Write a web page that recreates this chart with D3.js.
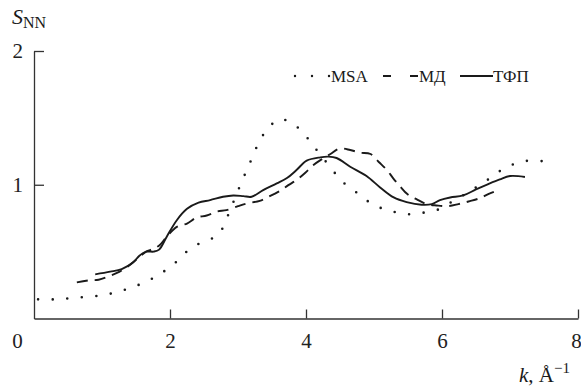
<!DOCTYPE html>
<html>
<head>
<meta charset="utf-8">
<script src="https://d3js.org/d3.v7.min.js"></script>
<style>
  body { margin: 0; background: #fff; }
  svg { display: block; }
  svg text { font-family: 'Liberation Serif', 'Times New Roman', serif !important; }
  .axis path, .axis line { stroke: #333; stroke-width: 1.3; }
  .axis text { font-size: 21px; fill: #222; }
</style>
</head>
<body>
<div id="chart"></div>
<script>
// MSA (dotted)
const msaK = [0.06,0.28,0.5,0.72,0.95,1.16,1.37,1.58,1.78,1.96,2.13,2.29,2.49,2.68,2.8,2.88,2.97,3.05,3.14,3.23,3.32,3.44,3.61,3.81,3.97,4.11,4.38,4.52,4.7,4.87,5.06,5.27,5.49,5.71,5.92,6.12,6.31,6.5,6.68,6.86,7.06,7.27,7.5];
const msaS = [0.143,0.143,0.15,0.16,0.17,0.19,0.22,0.26,0.31,0.37,0.44,0.52,0.575,0.615,0.70,0.81,0.915,1.02,1.12,1.23,1.33,1.42,1.49,1.455,1.38,1.29,1.117,1.03,0.96,0.89,0.835,0.80,0.78,0.79,0.81,0.865,0.92,0.98,1.04,1.105,1.155,1.18,1.175];
// МД (dashed)
const mdK = [0.63,0.80,0.95,1.12,1.26,1.41,1.55,1.65,1.75,1.85,1.95,2.10,2.25,2.39,2.54,2.69,2.83,3.00,3.13,3.32,3.45,3.62,3.74,3.86,3.99,4.11,4.23,4.36,4.49,4.65,4.79,4.95,5.07,5.19,5.28,5.38,5.49,5.63,5.78,5.92,6.09,6.24,6.39,6.56,6.68,6.85];
const mdS = [0.27,0.285,0.29,0.32,0.35,0.40,0.46,0.50,0.52,0.55,0.61,0.685,0.71,0.755,0.77,0.80,0.81,0.84,0.86,0.88,0.91,0.955,0.997,1.035,1.09,1.148,1.19,1.23,1.27,1.26,1.24,1.23,1.17,1.11,1.05,0.99,0.93,0.89,0.855,0.845,0.84,0.855,0.875,0.90,0.93,0.965];
// ТФП (solid)
const tfpK = [0.90,1.12,1.29,1.46,1.55,1.65,1.76,1.84,1.95,2.10,2.25,2.42,2.59,2.78,2.93,3.08,3.20,3.37,3.57,3.72,3.86,4.01,4.21,4.33,4.45,4.65,4.89,5.09,5.29,5.48,5.70,5.85,5.97,6.12,6.31,6.50,6.68,6.85,7.0,7.22];
const tfpS = [0.33,0.35,0.37,0.42,0.47,0.50,0.50,0.515,0.61,0.735,0.82,0.866,0.885,0.91,0.92,0.915,0.91,0.96,1.01,1.05,1.11,1.18,1.205,1.21,1.20,1.135,1.065,0.98,0.905,0.87,0.85,0.855,0.885,0.905,0.92,0.965,1.005,1.04,1.065,1.058];

const xTicks = [0, 2, 4, 6, 8];
const yTicks = [1, 2];
const seriesNames = ["MSA", "МД", "ТФП"];

const W = 581, H = 386;
const svg = d3.select("#chart").append("svg").attr("width", W).attr("height", H);

const x = d3.scaleLinear().domain([0, 8]).range([34, 578]);
const y = d3.scaleLinear().domain([0, 2]).range([318.5, 51]);

// x axis
const xAxis = svg.append("g").attr("class", "axis")
    .attr("transform", "translate(0," + y(0) + ")")
    .call(d3.axisBottom(x).tickValues(xTicks).tickSizeInner(-9).tickSizeOuter(0).tickPadding(15).tickFormat(d3.format("d")));
xAxis.selectAll(".tick").filter(d => d === 0).select("line").remove();
xAxis.selectAll(".tick").filter(d => d === 0).select("text").attr("x", -17);
xAxis.selectAll(".tick").filter(d => d === 8).select("text").attr("x", -2);

// y axis
svg.append("g").attr("class", "axis")
    .attr("transform", "translate(" + x(0) + ",0)")
    .call(d3.axisLeft(y).tickValues(yTicks).tickSizeInner(-10).tickSizeOuter(0).tickPadding(11).tickFormat(d3.format("d")));

const line = d3.line()
    .x(d => x(d[0]))
    .y(d => y(d[1]))
    .curve(d3.curveCatmullRom.alpha(0.5));

const styles = {
  "MSA": { dash: "0 14.6", width: 2.6, cap: "round" },
  "МД":  { dash: "11 7", width: 1.9, cap: "butt" },
  "ТФП": { dash: null, width: 1.9, cap: "butt" }
};
const data = {
  "MSA": d3.zip(msaK, msaS),
  "МД": d3.zip(mdK, mdS),
  "ТФП": d3.zip(tfpK, tfpS)
};

seriesNames.forEach(name => {
  const st = styles[name];
  svg.append("path")
    .datum(data[name])
    .attr("fill", "none")
    .attr("stroke", "#1a1a1a")
    .attr("stroke-width", st.width)
    .attr("stroke-linecap", st.cap)
    .attr("stroke-dasharray", st.dash)
    .attr("d", line);
});

// legend
const ly = 76;
const lg = svg.append("g").attr("font-size", 17).attr("fill", "#1a1a1a");
lg.append("line").attr("x1", 295).attr("x2", 329.5).attr("y1", ly).attr("y2", ly)
  .attr("stroke", "#1a1a1a").attr("stroke-width", 2.4).attr("stroke-linecap", "round").attr("stroke-dasharray", "0 17");
lg.append("text").attr("x", 331).attr("y", ly + 6).text(seriesNames[0]);
lg.append("line").attr("x1", 383).attr("x2", 418).attr("y1", ly).attr("y2", ly)
  .attr("stroke", "#1a1a1a").attr("stroke-width", 1.9).attr("stroke-dasharray", "8 19");
lg.append("text").attr("x", 419).attr("y", ly + 6).text(seriesNames[1]);
lg.append("line").attr("x1", 460).attr("x2", 493).attr("y1", ly).attr("y2", ly)
  .attr("stroke", "#1a1a1a").attr("stroke-width", 1.9);
lg.append("text").attr("x", 493).attr("y", ly + 6).text(seriesNames[2]);

// axis titles
const yt = svg.append("text").attr("x", 12).attr("y", 24).attr("fill", "#1a1a1a");
yt.append("tspan").attr("font-size", 22).attr("font-style", "italic").text("S");
yt.append("tspan").attr("font-size", 16).attr("dy", 4).text("NN");

const xt = svg.append("text").attr("x", 519).attr("y", 382).attr("fill", "#1a1a1a").attr("font-size", 21);
xt.append("tspan").attr("font-style", "italic").text("k");
xt.append("tspan").text(", Å");
xt.append("tspan").attr("font-size", 15).attr("dy", -9).text("−1");
</script>
</body>
</html>
